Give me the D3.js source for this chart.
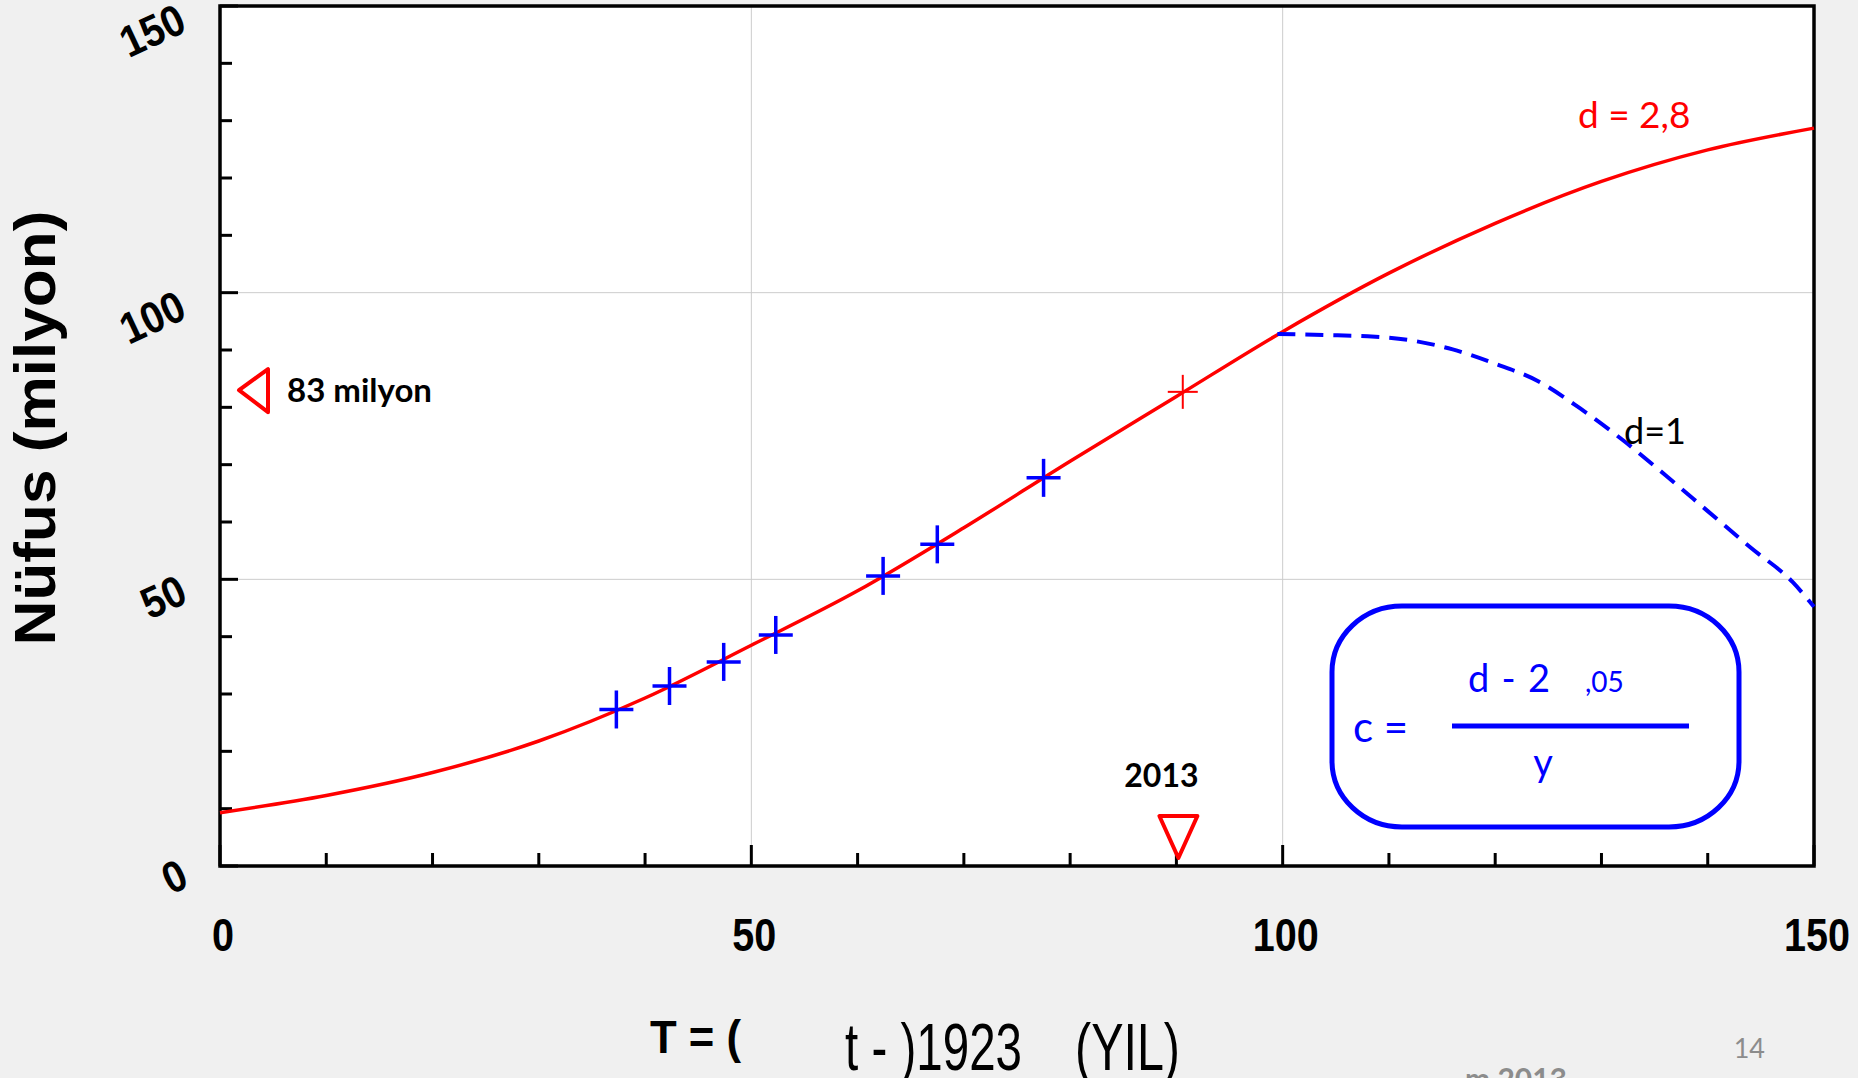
<!DOCTYPE html>
<html>
<head>
<meta charset="utf-8">
<script src="https://cdn.jsdelivr.net/npm/d3@7"></script>
<style>
  html, body { margin: 0; padding: 0; background: #f0f0f0; }
  svg { display: block; }
</style>
</head>
<body>
<div id="graph"></div>
<script>
// model curve d = 2,8 (T, population in millions)
const curveT = [0, 10, 20, 30, 40, 50, 60, 70, 80, 90, 100, 110, 120, 130, 140, 150];
const curveN = [9.3, 12.3, 16.3, 21.8, 29.3, 38.5, 48.0, 59.0, 70.6, 81.9, 93.2, 103.4, 112.1, 119.4, 124.9, 128.7];

// census points (blue crosses)
const censusT = [37.3, 42.3, 47.4, 52.3, 62.4, 67.5, 77.5];
const censusN = [27.3, 31.4, 35.6, 40.3, 50.6, 56.1, 67.7];

// 2013 point (red cross)
const nowT = [90.6];
const nowN = [82.7];

// model curve d = 1 (dashed)
const d1T = [99.5, 104, 108, 112, 116, 120, 124, 128, 132, 136, 140, 144, 148, 150];
const d1N = [92.8, 92.6, 92.4, 91.7, 90.1, 87.6, 84.6, 79.8, 74.3, 68.2, 61.9, 55.6, 49.5, 45.2];

const xTickLabels = [0, 50, 100, 150];
const yTickLabels = [0, 50, 100, 150];
const minorTicks = d3.range(0, 151, 10);

const W = 1858, H = 1078;
const margin = { top: 6, right: 44, bottom: 212, left: 220 };
const width = W - margin.left - margin.right,
      height = H - margin.top - margin.bottom;

const svg = d3.select('#graph').append('svg')
  .attr('width', W).attr('height', H);

const g = svg.append('g')
  .attr('transform', 'translate(' + margin.left + ',' + margin.top + ')');

const x = d3.scaleLinear().domain([0, 150]).range([0, width]);
const y = d3.scaleLinear().domain([0, 150]).range([height, 0]);

// plot background
g.append('rect').attr('width', width).attr('height', height).attr('fill', 'white');

// grid
g.selectAll('.gx').data([50, 100]).enter().append('line')
  .attr('x1', d => x(d)).attr('x2', d => x(d))
  .attr('y1', 0).attr('y2', height)
  .attr('stroke', '#cccccc').attr('stroke-width', 1);
g.selectAll('.gy').data([50, 100]).enter().append('line')
  .attr('x1', 0).attr('x2', width)
  .attr('y1', d => y(d)).attr('y2', d => y(d))
  .attr('stroke', '#cccccc').attr('stroke-width', 1);

// inward ticks
g.append('g').selectAll('line').data(minorTicks).enter().append('line')
  .attr('x1', d => x(d)).attr('x2', d => x(d))
  .attr('y1', height)
  .attr('y2', d => height - (d % 50 === 0 ? 21 : 13))
  .attr('stroke', 'black').attr('stroke-width', 3);
g.append('g').selectAll('line').data(minorTicks).enter().append('line')
  .attr('y1', d => y(d)).attr('y2', d => y(d))
  .attr('x1', 0)
  .attr('x2', d => (d % 50 === 0 ? 18 : 12))
  .attr('stroke', 'black').attr('stroke-width', 3);

// frame
g.append('rect').attr('width', width).attr('height', height)
  .attr('fill', 'none').attr('stroke', 'black').attr('stroke-width', 3.5);

// x tick labels
g.append('g').selectAll('text').data(xTickLabels).enter().append('text')
  .attr('x', d => x(d) + 3).attr('y', height + 85)
  .attr('text-anchor', 'middle')
  .attr('font-family', 'Liberation Sans, Arial, sans-serif')
  .attr('font-weight', 'bold').attr('font-size', 47)
  .attr('textLength', d => String(d).length * 22)
  .attr('lengthAdjust', 'spacingAndGlyphs')
  .text(d => d);

// y tick labels (slanted)
g.append('g').selectAll('text').data(yTickLabels).enter().append('text')
  .attr('transform', d => {
    const n = String(d).length;
    return 'translate(' + (-35 - 11 * n) + ',' + (y(d) + 3 + 7 * n) + ') rotate(-25)';
  })
  .attr('dy', '0.36em')
  .attr('text-anchor', 'middle')
  .attr('font-family', 'Liberation Sans, Arial, sans-serif')
  .attr('font-weight', 'bold').attr('font-size', 44)
  .attr('textLength', d => String(d).length * 22)
  .attr('lengthAdjust', 'spacingAndGlyphs')
  .text(d => d);

// d = 2,8 curve
const redLine = d3.line()
  .x((d, i) => x(curveT[i])).y(d => y(d))
  .curve(d3.curveMonotoneX);
g.append('path').datum(curveN)
  .attr('d', redLine)
  .attr('fill', 'none').attr('stroke', '#ff0000').attr('stroke-width', 3.5);

// d = 1 curve
const blueLine = d3.line()
  .x((d, i) => x(d1T[i])).y(d => y(d))
  .curve(d3.curveMonotoneX);
g.append('path').datum(d1N)
  .attr('d', blueLine)
  .attr('fill', 'none').attr('stroke', '#0000ff').attr('stroke-width', 4)
  .attr('stroke-dasharray', '18,10');

// crosses
function cross(sel, tx, ny, half, color, sw) {
  const c = sel.append('g').selectAll('g').data(ny).enter().append('g')
    .attr('transform', (d, i) => 'translate(' + x(tx[i]) + ',' + y(d) + ')');
  c.append('line').attr('x1', -half).attr('x2', half).attr('y1', 0).attr('y2', 0)
    .attr('stroke', color).attr('stroke-width', sw);
  c.append('line').attr('x1', 0).attr('x2', 0).attr('y1', -half - 2).attr('y2', half + 2)
    .attr('stroke', color).attr('stroke-width', sw);
}
cross(g, censusT, censusN, 17, '#0000ff', 3.5);
cross(g, nowT, nowN, 15, '#ff0000', 2);

// 83 milyon marker
const yNow = y(83);
g.append('path')
  .attr('d', 'M' + (x(0) + 19) + ',' + yNow + 'L' + (x(0) + 48) + ',' + (yNow - 21) +
             'L' + (x(0) + 48) + ',' + (yNow + 22) + 'Z')
  .attr('fill', 'none').attr('stroke', '#ff0000').attr('stroke-width', 4)
  .attr('stroke-linejoin', 'round');
g.append('text').attr('x', x(0) + 67).attr('y', yNow + 12)
  .attr('font-family', 'Lato, sans-serif').attr('font-weight', 'bold').attr('font-size', 33)
  .text('83 milyon');

// 2013 marker
const x2013 = x(90);
g.append('path')
  .attr('d', 'M' + (x2013 + 2) + ',' + (height - 8) + 'L' + (x2013 - 17) + ',' + (height - 50) +
             'L' + (x2013 + 21) + ',' + (height - 50) + 'Z')
  .attr('fill', 'none').attr('stroke', '#ff0000').attr('stroke-width', 4)
  .attr('stroke-linejoin', 'round');
g.append('text').attr('x', x2013 - 15).attr('y', height - 79)
  .attr('text-anchor', 'middle')
  .attr('font-family', 'Lato, sans-serif').attr('font-weight', 'bold').attr('font-size', 32)
  .text('2013');

// curve labels
g.append('text').attr('x', 1578 - margin.left).attr('y', 128 - margin.top)
  .attr('font-family', 'Lato, sans-serif').attr('font-size', 37).attr('fill', '#ff0000')
  .text('d = 2,8');
g.append('text').attr('x', 1624 - margin.left).attr('y', 444 - margin.top)
  .attr('font-family', 'Lato, sans-serif').attr('font-size', 36).attr('fill', 'black')
  .text('d=1');

// formula box
const box = svg.append('g');
box.append('rect').attr('x', 1332).attr('y', 606).attr('width', 407).attr('height', 221)
  .attr('rx', 70).attr('ry', 66)
  .attr('fill', 'white').attr('stroke', '#0000ff').attr('stroke-width', 5);
box.append('text').attr('x', 1353).attr('y', 742)
  .attr('font-family', 'Lato, sans-serif').attr('font-size', 42).attr('fill', '#0000ff')
  .text('c =');
box.append('text').attr('x', 1468).attr('y', 692)
  .attr('font-family', 'Lato, sans-serif').attr('font-size', 38).attr('fill', '#0000ff')
  .attr('textLength', 82).attr('lengthAdjust', 'spacing')
  .text('d - 2');
box.append('text').attr('x', 1585).attr('y', 692)
  .attr('font-family', 'Lato, sans-serif').attr('font-size', 28).attr('fill', '#0000ff')
  .text(',05');
box.append('line').attr('x1', 1452).attr('x2', 1689).attr('y1', 726).attr('y2', 726)
  .attr('stroke', '#0000ff').attr('stroke-width', 5);
box.append('text').attr('x', 1543).attr('y', 776).attr('text-anchor', 'middle')
  .attr('font-family', 'Lato, sans-serif').attr('font-size', 38).attr('fill', '#0000ff')
  .text('y');

// axis titles
svg.append('text')
  .attr('transform', 'translate(55,428) rotate(-90)')
  .attr('text-anchor', 'middle')
  .attr('font-family', 'Liberation Sans, Arial, sans-serif')
  .attr('font-weight', 'bold').attr('font-size', 58)
  .attr('textLength', 435).attr('lengthAdjust', 'spacingAndGlyphs')
  .text('Nüfus (milyon)');

svg.append('text').attr('x', 650).attr('y', 1053)
  .attr('font-family', 'Liberation Sans, Arial, sans-serif')
  .attr('font-weight', 'bold').attr('font-size', 46)
  .attr('textLength', 91).attr('lengthAdjust', 'spacingAndGlyphs')
  .text('T = (');
svg.append('text').attr('x', 845).attr('y', 1070)
  .attr('font-family', 'Liberation Sans, Arial, sans-serif').attr('font-size', 66)
  .attr('textLength', 177).attr('lengthAdjust', 'spacingAndGlyphs')
  .text('t - )1923');
svg.append('text').attr('x', 1075).attr('y', 1070)
  .attr('font-family', 'Liberation Sans, Arial, sans-serif').attr('font-size', 66)
  .attr('textLength', 105).attr('lengthAdjust', 'spacingAndGlyphs')
  .text('(YIL)');

// slide footer
svg.append('text').attr('x', 1765).attr('y', 1058).attr('text-anchor', 'end')
  .attr('font-family', 'Lato, sans-serif').attr('font-size', 27).attr('fill', '#8c8c8c')
  .text('14');
svg.append('text').attr('x', 1465).attr('y', 1090)
  .attr('font-family', 'Lato, sans-serif').attr('font-weight', 'bold')
  .attr('font-size', 30).attr('fill', '#8c8c8c')
  .text('m 2013');
</script>
</body>
</html>
